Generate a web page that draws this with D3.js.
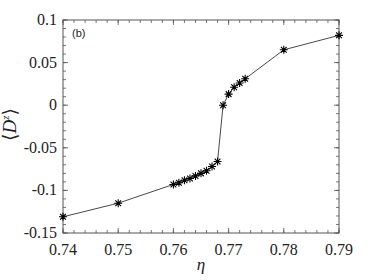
<!DOCTYPE html>
<html>
<head>
<meta charset="utf-8">
<script src="https://cdn.jsdelivr.net/npm/d3@7"></script>
<style>
body { margin: 0; background: #fff; }
</style>
</head>
<body>
<svg id="chart" width="374" height="280"></svg>
<script>
// eta values and <D^z>
var etaVals = [0.74, 0.75, 0.760, 0.761, 0.762, 0.763, 0.764, 0.765, 0.766, 0.767, 0.768,
               0.769, 0.770, 0.771, 0.772, 0.773, 0.78, 0.79];
var dzVals = [-0.131, -0.115, -0.093, -0.091, -0.088, -0.086, -0.083, -0.080, -0.077, -0.072, -0.066,
              0.000, 0.013, 0.021, 0.026, 0.031, 0.065, 0.082];
var xTicks = [0.74, 0.75, 0.76, 0.77, 0.78, 0.79];
var yTicks = [-0.15, -0.1, -0.05, 0, 0.05, 0.1];
var yTickLabels = ["-0.15", "-0.1", "-0.05", "0", "0.05", "0.1"];

var serif = "'Liberation Serif', 'DejaVu Serif', serif";
var svg = d3.select("#chart");
var pl = 63, pr = 339, pt = 20, pb = 233;

var x = d3.scaleLinear().domain([0.74, 0.79]).range([pl, pr]);
var y = d3.scaleLinear().domain([-0.15, 0.1]).range([pb, pt]);

var frame = "#555";

// minor ticks
var xMinor = d3.range(0, 26).map(function(i) { return 0.74 + i * 0.002; });
var yMinor = d3.range(0, 26).map(function(i) { return -0.15 + i * 0.01; });

var g = svg.append("g");

function vTicks(data, y0, len) {
  g.selectAll(null).data(data).enter().append("line")
    .attr("x1", function(d) { return x(d); }).attr("x2", function(d) { return x(d); })
    .attr("y1", y0).attr("y2", y0 + len)
    .attr("stroke", frame).attr("stroke-width", 0.8);
}
function hTicks(data, x0, len) {
  g.selectAll(null).data(data).enter().append("line")
    .attr("x1", x0).attr("x2", x0 + len)
    .attr("y1", function(d) { return y(d); }).attr("y2", function(d) { return y(d); })
    .attr("stroke", frame).attr("stroke-width", 0.8);
}
vTicks(xMinor, pb, -3); vTicks(xMinor, pt, 3);
hTicks(yMinor, pl, 3); hTicks(yMinor, pr, -3);
vTicks(xTicks, pb, -5); vTicks(xTicks, pt, 5);
hTicks(yTicks, pl, 5); hTicks(yTicks, pr, -5);

// frame
g.append("rect")
  .attr("x", pl).attr("y", pt)
  .attr("width", pr - pl).attr("height", pb - pt)
  .attr("fill", "none").attr("stroke", frame).attr("stroke-width", 1);

// tick labels
g.selectAll("text.xl").data(xTicks).enter().append("text")
  .attr("x", function(d) { return x(d); })
  .attr("y", pb + 22)
  .attr("text-anchor", "middle")
  .style("font-family", serif)
  .style("font-size", "16px")
  .attr("fill", "#222")
  .text(function(d) { return d3.format(".2f")(d); });

g.selectAll("text.yl").data(yTicks).enter().append("text")
  .attr("x", pl - 6)
  .attr("y", function(d) { return y(d) + 5; })
  .attr("text-anchor", "end")
  .style("font-family", serif)
  .style("font-size", "16px")
  .attr("fill", "#222")
  .text(function(d, i) { return yTickLabels[i]; });

// axis labels
svg.append("text")
  .attr("x", x(0.765)).attr("y", 270)
  .attr("text-anchor", "middle")
  .style("font-family", serif)
  .style("font-size", "17px").style("font-style", "italic")
  .attr("fill", "#222")
  .text("η");

var yl = svg.append("text")
  .attr("transform", "translate(16," + ((pt + pb) / 2 - 2) + ") rotate(-90)")
  .attr("text-anchor", "middle")
  .style("font-family", serif)
  .style("font-size", "19px")
  .attr("fill", "#222");
yl.append("tspan").text("⟨");
yl.append("tspan").style("font-style", "italic").text("D");
yl.append("tspan").style("font-style", "italic").style("font-size", "11px").attr("dy", -7).text("z");
yl.append("tspan").attr("dy", 7).text("⟩");

svg.append("text")
  .attr("x", 72).attr("y", 37)
  .style("font-size", "11px")
  .style("font-family", "'Liberation Sans', Arial, sans-serif")
  .attr("fill", "#222")
  .text("(b)");

// data line
var pts = etaVals.map(function(e, i) { return [e, dzVals[i]]; });
var line = d3.line().x(function(d) { return x(d[0]); }).y(function(d) { return y(d[1]); });
svg.append("path")
  .datum(pts)
  .attr("d", line)
  .attr("fill", "none")
  .attr("stroke", "#333")
  .attr("stroke-width", 0.9);

// asterisk markers
var r = 4, rd = r * 0.72;
var star = "M" + (-r) + ",0L" + r + ",0M0," + (-r) + "L0," + r +
           "M" + (-rd) + "," + (-rd) + "L" + rd + "," + rd +
           "M" + (-rd) + "," + rd + "L" + rd + "," + (-rd);
svg.selectAll("path.mk").data(pts).enter().append("path")
  .attr("class", "mk")
  .attr("transform", function(d) { return "translate(" + x(d[0]) + "," + y(d[1]) + ")"; })
  .attr("d", star)
  .attr("fill", "none")
  .attr("stroke", "#000")
  .attr("stroke-width", 1.1);
</script>
</body>
</html>
